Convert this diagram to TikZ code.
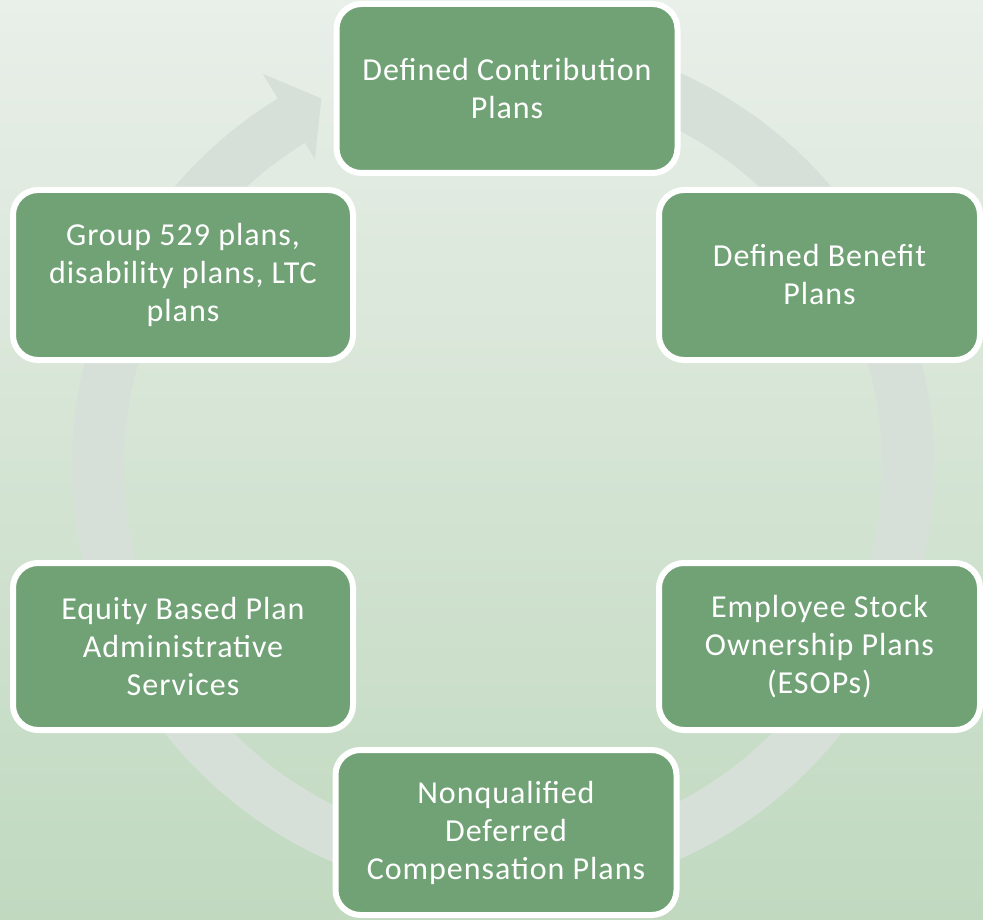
\documentclass[tikz,border=0pt]{standalone}
\usepackage{fontspec}
\setmainfont{Carlito}
\newfontfamily\planfont[LetterSpace=3]{Carlito}
\definecolor{plangreen}{RGB}{113,162,118}
\definecolor{bgtop}{RGB}{233,239,233}
\definecolor{bgbottom}{RGB}{192,217,191}
\definecolor{ringgrey}{RGB}{214,224,216}
\begin{document}
\begin{tikzpicture}[x=1pt,y=-1pt,
  plan/.style={draw=white, line width=6pt, fill=plangreen, rounded corners=25pt,
    text=white, align=center, inner sep=0pt, minimum width=341pt, minimum height=170pt,
    font=\planfont\fontsize{32}{38}\selectfont}]

\useasboundingbox (0,0) rectangle (983,920);
\fill[top color=bgtop, bottom color=bgbottom] (0,0) rectangle (983,920);

\begin{scope}[shift={(503,466)}, yscale=-1] % circular arrow behind the plans
\fill[ringgrey] (95:431) arc[start angle=95, end angle=-238.5, radius=431]
  -- (-238.5:460) -- (-243.7:410) -- (-238.5:360) -- (-238.5:379)
  arc[start angle=-238.5, end angle=95, radius=379] -- cycle;
\end{scope}

\node[plan, minimum height=169pt] (dc) at (507,88.5) {Defined Contribution\\Plans};
\node[plan, minimum width=321pt] (db) at (819.5,275) {Defined Benefit\\Plans};
\node[plan, minimum width=321pt, minimum height=167pt] (esop) at (819.5,646.5) {Employee Stock\\Ownership Plans\\(ESOPs)};
\node[plan, minimum height=165pt] (nqdc) at (506,832.5) {Nonqualified\\Deferred\\Compensation Plans};
\node[plan, minimum width=340pt, minimum height=167pt] (equity) at (183,646.5) {Equity Based Plan\\Administrative\\Services};
\node[plan, minimum width=340pt] (group) at (183,275) {Group 529 plans,\\disability plans, LTC\\plans};

\end{tikzpicture}
\end{document}
